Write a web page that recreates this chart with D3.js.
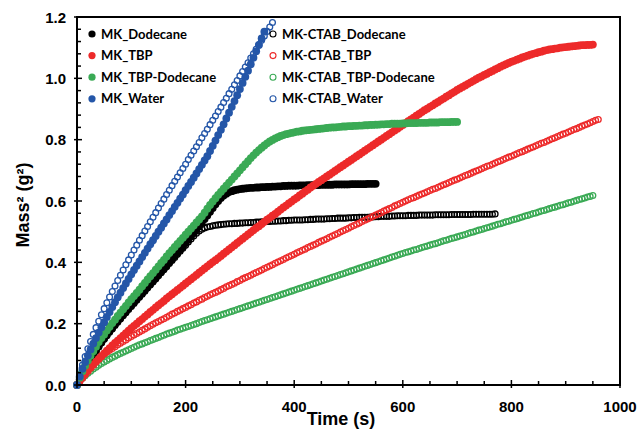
<!DOCTYPE html>
<html><head><meta charset="utf-8">
<script src="https://cdn.jsdelivr.net/npm/d3@7"></script>
<style>body{margin:0;background:#fff}</style></head>
<body><svg id="c" width="641" height="438"></svg>
<script>
// ---- data: values read every 5 s (time = index * 5 s), mass^2 in g^2 ----
const xTicks = [0, 200, 400, 600, 800, 1000];
const yTicks = [0.0, 0.2, 0.4, 0.6, 0.8, 1.0, 1.2];
const timeStep = 5;

const mkDodecane = [
0,0.018,0.035,0.052,0.068,0.083,0.098,0.112,0.126,0.139,
0.152,0.164,0.176,0.187,0.198,0.209,0.219,0.230,0.240,0.250,
0.260,0.270,0.280,0.290,0.300,0.310,0.320,0.330,0.340,0.350,
0.360,0.370,0.380,0.390,0.400,0.410,0.421,0.431,0.442,0.452,
0.463,0.474,0.485,0.496,0.507,0.518,0.530,0.541,0.553,0.565,
0.577,0.589,0.600,0.610,0.618,0.624,0.629,0.632,0.635,0.637,
0.639,0.640,0.641,0.642,0.643,0.643,0.644,0.644,0.645,0.645,
0.646,0.646,0.647,0.647,0.648,0.648,0.649,0.649,0.650,0.650,
0.650,0.650,0.651,0.651,0.651,0.652,0.652,0.652,0.652,0.652,
0.653,0.653,0.653,0.653,0.653,0.654,0.654,0.654,0.654,0.654,
0.654,0.655,0.655,0.655,0.655,0.655,0.655,0.656,0.656,0.656,
0.656];

const mkTBP = [
0,0.013,0.024,0.035,0.046,0.056,0.066,0.076,0.085,0.094,
0.103,0.112,0.120,0.129,0.137,0.145,0.153,0.161,0.169,0.177,
0.185,0.193,0.200,0.208,0.215,0.223,0.230,0.238,0.245,0.253,
0.260,0.267,0.274,0.282,0.289,0.296,0.303,0.310,0.317,0.324,
0.331,0.338,0.345,0.352,0.359,0.366,0.373,0.380,0.387,0.394,
0.401,0.407,0.414,0.421,0.428,0.435,0.442,0.449,0.456,0.463,
0.470,0.477,0.484,0.491,0.498,0.505,0.512,0.518,0.525,0.532,
0.539,0.545,0.552,0.558,0.565,0.572,0.579,0.585,0.592,0.598,
0.605,0.611,0.618,0.624,0.631,0.637,0.644,0.650,0.656,0.662,
0.668,0.674,0.680,0.686,0.692,0.698,0.704,0.710,0.716,0.722,
0.728,0.734,0.740,0.746,0.752,0.758,0.764,0.770,0.776,0.782,
0.788,0.794,0.800,0.806,0.812,0.818,0.824,0.830,0.836,0.842,
0.848,0.854,0.860,0.866,0.872,0.878,0.884,0.890,0.896,0.901,
0.907,0.912,0.918,0.923,0.929,0.934,0.940,0.945,0.951,0.956,
0.962,0.967,0.972,0.977,0.982,0.987,0.992,0.997,1.002,1.006,
1.011,1.015,1.020,1.024,1.029,1.033,1.038,1.042,1.046,1.050,
1.054,1.057,1.061,1.064,1.068,1.071,1.074,1.077,1.080,1.082,
1.085,1.087,1.090,1.092,1.094,1.095,1.097,1.098,1.100,1.101,
1.102,1.103,1.104,1.105,1.106,1.107,1.108,1.108,1.109,1.109,
1.110];

const mkTBPDodecane = [
0,0.024,0.045,0.063,0.080,0.095,0.110,0.125,0.140,0.153,
0.165,0.178,0.190,0.202,0.213,0.225,0.236,0.247,0.258,0.269,
0.280,0.290,0.300,0.311,0.322,0.333,0.344,0.355,0.365,0.376,
0.387,0.398,0.408,0.419,0.430,0.440,0.450,0.460,0.470,0.480,
0.490,0.500,0.510,0.520,0.530,0.540,0.550,0.562,0.575,0.587,
0.598,0.609,0.620,0.630,0.640,0.650,0.660,0.670,0.680,0.690,
0.700,0.710,0.720,0.730,0.740,0.749,0.758,0.766,0.774,0.781,
0.788,0.794,0.799,0.804,0.808,0.812,0.815,0.818,0.820,0.822,
0.824,0.826,0.827,0.829,0.830,0.831,0.832,0.833,0.834,0.835,
0.836,0.837,0.838,0.839,0.840,0.840,0.841,0.842,0.843,0.843,
0.844,0.844,0.845,0.845,0.846,0.846,0.847,0.847,0.848,0.848,
0.849,0.849,0.850,0.850,0.851,0.851,0.852,0.852,0.852,0.852,
0.853,0.853,0.854,0.854,0.854,0.854,0.855,0.855,0.855,0.855,
0.856,0.856,0.856,0.856,0.857,0.857,0.857,0.857,0.858,0.858,
0.858];

const mkWater = [
0,0.028,0.053,0.075,0.096,0.116,0.135,0.153,0.171,0.188,
0.205,0.222,0.238,0.254,0.270,0.286,0.301,0.316,0.331,0.346,
0.361,0.375,0.389,0.403,0.417,0.431,0.445,0.459,0.472,0.486,
0.500,0.513,0.527,0.540,0.554,0.567,0.581,0.594,0.608,0.621,
0.635,0.649,0.662,0.676,0.690,0.704,0.718,0.732,0.746,0.763,
0.780,0.797,0.815,0.832,0.850,0.869,0.888,0.907,0.926,0.945,
0.965,0.985,1.005,1.025,1.046,1.067,1.088,1.109,1.130,1.152];

const ctabDodecane = [
0,0.019,0.036,0.052,0.068,0.083,0.097,0.111,0.124,0.137,
0.149,0.161,0.172,0.183,0.194,0.205,0.215,0.226,0.236,0.246,
0.256,0.266,0.276,0.286,0.296,0.306,0.316,0.326,0.336,0.346,
0.356,0.366,0.376,0.386,0.396,0.406,0.416,0.426,0.436,0.446,
0.456,0.466,0.476,0.486,0.495,0.502,0.508,0.512,0.515,0.517,
0.519,0.521,0.522,0.523,0.524,0.525,0.526,0.526,0.527,0.527,
0.528,0.528,0.529,0.529,0.530,0.530,0.531,0.531,0.532,0.532,
0.533,0.533,0.534,0.534,0.535,0.535,0.536,0.536,0.537,0.537,
0.538,0.538,0.538,0.538,0.539,0.539,0.540,0.540,0.541,0.541,
0.541,0.541,0.542,0.542,0.543,0.543,0.544,0.544,0.544,0.544,
0.545,0.545,0.546,0.546,0.547,0.547,0.547,0.547,0.548,0.548,
0.549,0.549,0.550,0.550,0.550,0.550,0.551,0.551,0.552,0.552,
0.552,0.552,0.553,0.553,0.553,0.553,0.554,0.554,0.554,0.554,
0.554,0.554,0.555,0.555,0.555,0.555,0.555,0.555,0.556,0.556,
0.556,0.556,0.556,0.556,0.556,0.556,0.557,0.557,0.557,0.557,
0.557,0.557,0.557,0.557,0.558];

const ctabTBP = [
0,0.017,0.030,0.042,0.052,0.061,0.070,0.078,0.086,0.093,
0.100,0.107,0.113,0.119,0.125,0.131,0.136,0.142,0.147,0.153,
0.158,0.163,0.168,0.173,0.178,0.183,0.188,0.193,0.198,0.203,
0.207,0.212,0.216,0.221,0.226,0.231,0.235,0.240,0.244,0.249,
0.253,0.258,0.262,0.267,0.271,0.276,0.280,0.285,0.289,0.294,
0.298,0.302,0.306,0.311,0.315,0.320,0.324,0.328,0.332,0.337,
0.341,0.346,0.350,0.354,0.358,0.363,0.367,0.371,0.375,0.380,
0.384,0.388,0.392,0.397,0.401,0.405,0.409,0.414,0.418,0.422,
0.426,0.431,0.435,0.439,0.443,0.448,0.452,0.456,0.460,0.465,
0.469,0.473,0.477,0.482,0.486,0.490,0.494,0.499,0.503,0.507,
0.511,0.516,0.520,0.524,0.528,0.533,0.537,0.541,0.545,0.550,
0.554,0.558,0.562,0.567,0.571,0.575,0.579,0.584,0.588,0.592,
0.596,0.600,0.604,0.608,0.611,0.615,0.619,0.623,0.626,0.630,
0.634,0.638,0.641,0.645,0.649,0.653,0.656,0.660,0.664,0.668,
0.671,0.675,0.679,0.683,0.686,0.690,0.694,0.698,0.701,0.705,
0.709,0.713,0.716,0.720,0.724,0.728,0.731,0.735,0.739,0.743,
0.746,0.750,0.754,0.758,0.761,0.765,0.769,0.773,0.776,0.780,
0.784,0.788,0.791,0.795,0.799,0.803,0.806,0.810,0.814,0.818,
0.821,0.825,0.829,0.833,0.836,0.840,0.844,0.848,0.851,0.855,
0.859,0.863,0.866];

const ctabTBPDodecane = [
0,0.012,0.022,0.030,0.038,0.045,0.052,0.058,0.064,0.070,
0.075,0.080,0.085,0.090,0.094,0.099,0.103,0.107,0.111,0.115,
0.119,0.123,0.127,0.131,0.134,0.138,0.141,0.145,0.148,0.152,
0.155,0.159,0.162,0.166,0.169,0.172,0.175,0.179,0.182,0.185,
0.188,0.191,0.194,0.197,0.200,0.204,0.207,0.210,0.213,0.216,
0.219,0.222,0.225,0.228,0.231,0.234,0.237,0.240,0.243,0.246,
0.249,0.252,0.255,0.258,0.261,0.264,0.267,0.270,0.273,0.276,
0.279,0.282,0.285,0.288,0.291,0.294,0.297,0.300,0.303,0.306,
0.309,0.312,0.315,0.318,0.321,0.324,0.327,0.330,0.333,0.336,
0.339,0.342,0.345,0.348,0.351,0.354,0.357,0.360,0.363,0.366,
0.369,0.372,0.375,0.378,0.381,0.384,0.387,0.390,0.393,0.396,
0.399,0.402,0.405,0.408,0.411,0.414,0.417,0.420,0.423,0.426,
0.429,0.432,0.434,0.437,0.440,0.442,0.445,0.448,0.451,0.453,
0.456,0.459,0.461,0.464,0.467,0.470,0.472,0.475,0.478,0.480,
0.483,0.486,0.488,0.491,0.494,0.497,0.499,0.502,0.505,0.507,
0.510,0.513,0.515,0.518,0.521,0.524,0.526,0.529,0.532,0.534,
0.537,0.540,0.542,0.545,0.548,0.551,0.553,0.556,0.559,0.561,
0.564,0.567,0.569,0.572,0.575,0.578,0.580,0.583,0.586,0.588,
0.591,0.594,0.596,0.599,0.602,0.605,0.607,0.610,0.613,0.615,
0.618];

const ctabWater = [
0,0.035,0.065,0.093,0.118,0.142,0.165,0.187,0.208,0.229,
0.249,0.268,0.287,0.305,0.323,0.341,0.358,0.375,0.392,0.408,
0.424,0.440,0.456,0.472,0.487,0.502,0.517,0.532,0.547,0.562,
0.577,0.592,0.606,0.621,0.635,0.650,0.664,0.678,0.692,0.706,
0.720,0.735,0.749,0.763,0.777,0.791,0.806,0.820,0.834,0.849,
0.863,0.877,0.892,0.906,0.921,0.935,0.950,0.964,0.979,0.993,
1.008,1.022,1.037,1.051,1.066,1.080,1.095,1.109,1.124,1.138,
1.153,1.167,1.182];

const seriesNames = ["MK_Dodecane","MK_TBP","MK_TBP-Dodecane","MK_Water","MK-CTAB_Dodecane","MK-CTAB_TBP","MK-CTAB_TBP-Dodecane","MK-CTAB_Water"];
const seriesColors = ["#000000","#ED2A2A","#3AAA55","#2456A8","#000000","#ED2A2A","#3AAA55","#2456A8"];
const seriesFilled = [true,true,true,true,false,false,false,false];
const seriesV = [mkDodecane,mkTBP,mkTBPDodecane,mkWater,ctabDodecane,ctabTBP,ctabTBPDodecane,ctabWater];

// ---- drawing ----
const svg = d3.select("#c");
const L = 77, R = 620, T = 17, B = 385;
const x = d3.scaleLinear().domain([0, 1000]).range([L, R]);
const y = d3.scaleLinear().domain([0, 1.2]).range([B, T]);
const rFill = 3.9, rOpen = 2.9;

const plot = svg.append("g");
const order = [4,5,6,7,0,1,2,3];
order.forEach(i => {
  const pts = seriesV[i].map((v, k) => [k * timeStep, v]);
  plot.append("g").selectAll("circle").data(pts).join("circle")
    .attr("cx", d => x(d[0])).attr("cy", d => y(d[1]))
    .attr("r", seriesFilled[i] ? rFill : rOpen)
    .attr("fill", seriesFilled[i] ? seriesColors[i] : "none")
    .attr("stroke", seriesColors[i])
    .attr("stroke-width", seriesFilled[i] ? 0 : 1.3);
});

// frame
svg.append("rect").attr("x", L).attr("y", T).attr("width", R - L).attr("height", B - T)
  .attr("fill", "none").attr("stroke", "#000").attr("stroke-width", 2);

// x ticks
const xMinor = d3.range(0, 1001, 50);
svg.append("g").selectAll("line").data(xMinor).join("line")
  .attr("x1", d => x(d)).attr("x2", d => x(d))
  .attr("y1", d => B + (d % 200 === 0 ? 3 : 0)).attr("y2", d => B - (d % 200 === 0 ? 5 : 4))
  .attr("stroke", "#000").attr("stroke-width", 1.5);
svg.append("g").selectAll("text").data(xTicks).join("text")
  .attr("x", d => x(d)).attr("y", B + 27)
  .attr("text-anchor", "middle")
  .style("font", "bold 15px 'Liberation Sans', Arial, sans-serif")
  .text(d => d);

// y ticks
const yMinor = d3.range(0, 1.2001, 0.04);
const isMajor = d => Math.abs(d / 0.2 - Math.round(d / 0.2)) < 1e-6;
svg.append("g").selectAll("line").data(yMinor).join("line")
  .attr("y1", d => y(d)).attr("y2", d => y(d))
  .attr("x1", d => L - (isMajor(d) ? 3 : 0))
  .attr("x2", d => L + (isMajor(d) ? 5 : 4))
  .attr("stroke", "#000").attr("stroke-width", 1.5);
svg.append("g").selectAll("text").data(yTicks).join("text")
  .attr("x", L - 11).attr("y", d => y(d) + 5.5)
  .attr("text-anchor", "end")
  .style("font", "bold 15px 'Liberation Sans', Arial, sans-serif")
  .text(d => d.toFixed(1));

// axis titles
svg.append("text").attr("x", 341).attr("y", 425).attr("text-anchor", "middle")
  .style("font", "bold 18px 'Liberation Sans', Arial, sans-serif").text("Time (s)");
svg.append("text").attr("transform", "translate(29,205) rotate(-90)").attr("text-anchor", "middle")
  .style("font", "bold 18px 'Liberation Sans', Arial, sans-serif").text("Mass² (g²)");

// legend
const leg = svg.append("g");
seriesNames.forEach((name, i) => {
  const col = i < 4 ? 0 : 1, row = i % 4;
  const lx = col === 0 ? 92 : 273, ly = 34 + row * 21.6;
  leg.append("circle").attr("cx", lx).attr("cy", ly).attr("r", seriesFilled[i] ? 3.6 : 3)
    .attr("fill", seriesFilled[i] ? seriesColors[i] : "none")
    .attr("stroke", seriesColors[i]).attr("stroke-width", seriesFilled[i] ? 0 : 1.1);
  leg.append("text").attr("x", lx + 9).attr("y", ly + 4.5)
    .style("font", "bold 13px Lato, 'Open Sans', sans-serif").text(name);
});
</script></body></html>
